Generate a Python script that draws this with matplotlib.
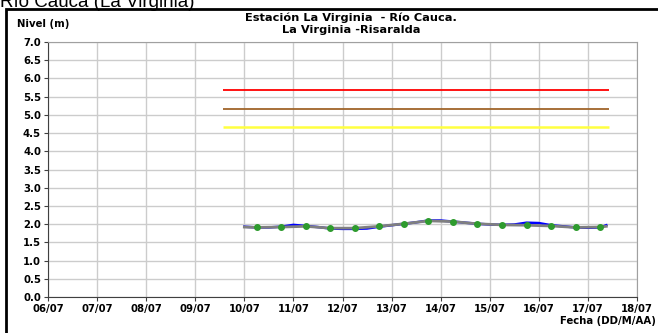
import matplotlib.pyplot as plt
from matplotlib.patches import Rectangle
import numpy as np

plt.rcParams['font.family'] = ['DejaVu Sans']

# x axis: days counted from 06/07 00:00
fechas = ['06/07', '07/07', '08/07', '09/07', '10/07', '11/07', '12/07',
          '13/07', '14/07', '15/07', '16/07', '17/07', '18/07']

# threshold levels (m) and their span in days
umbral_rojo = 5.67
umbral_naranja = 5.17
umbral_amarillo = 4.67
umbral_inicio = 3.56
umbral_fin = 11.43

# measured level, every 6 hours from 10/07 00:00
t_nivel = [4.0, 4.25, 4.5, 4.75, 5.0, 5.25, 5.5, 5.75, 6.0, 6.25, 6.5, 6.75,
           7.0, 7.25, 7.5, 7.75, 8.0, 8.25, 8.5, 8.75, 9.0, 9.25, 9.5, 9.75,
           10.0, 10.25, 10.5, 10.75, 11.0, 11.25, 11.375]
nivel = [1.93, 1.91, 1.91, 1.93, 1.98, 1.95, 1.92, 1.88, 1.87, 1.87, 1.88, 1.93,
         1.97, 2.01, 2.05, 2.10, 2.10, 2.07, 2.04, 2.01, 1.99, 1.98, 1.99, 2.04,
         2.03, 1.97, 1.94, 1.91, 1.90, 1.91, 1.97]

# smoothed level (every 12 hours)
t_prom = [4.0, 4.25, 4.75, 5.25, 5.75, 6.25, 6.75, 7.25, 7.75, 8.25, 8.75,
          9.25, 9.75, 10.25, 10.75, 11.25, 11.375]
prom = [1.92, 1.91, 1.92, 1.94, 1.89, 1.89, 1.94, 2.01, 2.09, 2.07, 2.01,
        1.98, 1.97, 1.95, 1.91, 1.92, 1.94]

fig = plt.figure(figsize=(6.58, 3.33), dpi=100)
ax = fig.add_axes([48 / 658, 36 / 333, 589 / 658, 255 / 333])

# outer black frame (runs off the right and bottom edge)
fig.patches.append(Rectangle((6 / 658, -0.1), 1.2, 1 - 9 / 333 + 0.1,
                             transform=fig.transFigure, fill=False,
                             edgecolor='black', linewidth=2))

ax.hlines([umbral_rojo], umbral_inicio, umbral_fin, color='#ff0000', lw=1.3)
ax.hlines([umbral_naranja], umbral_inicio, umbral_fin, color='#a0652a', lw=1.3)
ax.hlines([umbral_amarillo], umbral_inicio, umbral_fin, color='#ffff40', lw=1.8)

ax.plot(t_nivel, nivel, color='#0000ff', lw=1.8, zorder=3)
ax.plot(t_prom, prom, color='#808080', lw=2, zorder=4)
ax.plot(t_prom[1:-1], prom[1:-1], 'o', color='#2e9b2e', ms=4, zorder=5)

fs = 7.3
ax.set_xlim(0, 12)
ax.set_ylim(0, 7)
ax.set_xticks(np.arange(len(fechas)))
ax.set_xticklabels(fechas, fontsize=fs, fontweight='bold')
ax.set_yticks(np.arange(0, 7.01, 0.5))
ax.set_yticklabels(['%.1f' % v for v in np.arange(0, 7.01, 0.5)],
                   fontsize=fs, fontweight='bold')
ax.tick_params(axis='both', length=3, width=0.8, color='#404040', pad=2)
ax.grid(True, color='#cccccc', linewidth=1)
ax.set_axisbelow(True)
for side in ['top', 'right']:
    ax.spines[side].set_color('#a0a0a0')
for side in ['left', 'bottom']:
    ax.spines[side].set_color('#404040')

fig.text(0, 1 - 7 / 333, 'Río Cauca (La Virginia)', fontsize=13.5,
         family='Liberation Sans', ha='left', va='baseline')
fig.text(17 / 658, 1 - 24 / 333, 'Nivel (m)', fontsize=fs, fontweight='bold',
         ha='left', va='center')
fig.text(351 / 658, 1 - 18 / 333, 'Estación La Virginia  - Río Cauca.',
         fontsize=8.2, fontweight='bold', ha='center', va='center')
fig.text(351 / 658, 1 - 30 / 333, 'La Virginia -Risaralda',
         fontsize=8.2, fontweight='bold', ha='center', va='center')
fig.text(656 / 658, 1 - 321 / 333, 'Fecha (DD/M/AA)', fontsize=fs,
         fontweight='bold', ha='right', va='center')

fig.savefig('out.png', dpi=100)
